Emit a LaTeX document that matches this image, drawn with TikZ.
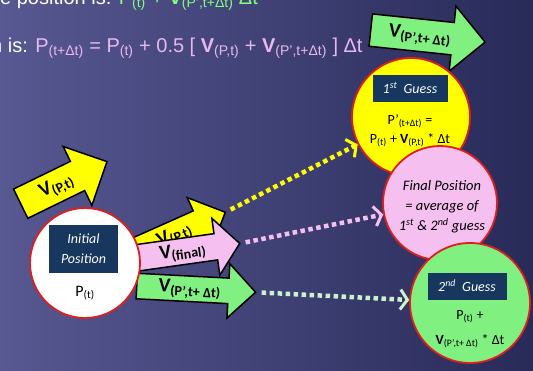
\documentclass[tikz,border=0pt]{standalone}
\usepackage{fontspec}
\setmainfont{Carlito}
\newfontfamily\arialfont{Liberation Sans}
\usetikzlibrary{shapes.arrows,arrows.meta,positioning}

\definecolor{bgleft}{RGB}{88,88,146}
\definecolor{bgright}{RGB}{40,42,88}
\definecolor{boxblue}{RGB}{23,55,94}
\definecolor{ringred}{RGB}{225,30,30}
\definecolor{vyellow}{RGB}{255,255,0}
\definecolor{vpink}{RGB}{245,192,240}
\definecolor{vgreen}{RGB}{128,240,128}
\definecolor{eqpink}{RGB}{232,184,240}
\definecolor{eqgreen}{RGB}{128,255,128}
\definecolor{dotgreen}{RGB}{205,240,205}

\newcommand{\vel}[1]{\textbf{V}\textsubscript{#1}}

\begin{document}
\begin{tikzpicture}[x=1pt, y=-1pt,
  bigarrow/.style={single arrow, draw=black, line width=1.5pt, inner xsep=3pt,
    text height=13pt, text depth=4pt, font=\bfseries\fontsize{20}{22}\selectfont},
  ring/.style={circle, draw=ringred, line width=1.8pt, inner sep=0pt},
  titlebox/.style={fill=boxblue, text=white, inner sep=0pt, align=center,
    font=\itshape\fontsize{14}{20}\selectfont},
  inner/.style={inner sep=0pt, align=center, font=\fontsize{14}{18}\selectfont},
  dotline/.style={line width=4.5pt, dash pattern=on 4.5pt off 3.5pt, shorten <=5pt,
    -{Straight Barb[length=7pt,width=20pt,line width=3pt]}}]
\useasboundingbox (0,0) rectangle (533,370);
\shade[left color=bgleft, right color=bgright] (0,0) rectangle (533,370);

% equations at the top
\node[anchor=base west, inner sep=0pt, text=white, font=\arialfont\fontsize{20}{24}\selectfont] (eqone) at (0,4)
  {e position is: \textcolor{eqgreen}{P\textsubscript{(t)} + \textbf{V}\textsubscript{(P’,t+Δt)} Δt}};
\node[anchor=base west, inner sep=0pt, text=white, font=\arialfont\fontsize{20}{24}\selectfont] (eqtwo) at (-9,52)
  {n is: \textcolor{eqpink}{P\textsubscript{(t+Δt)} = P\textsubscript{(t)} + 0.5 [ \textbf{V}\textsubscript{(P,t)} + \textbf{V}\textsubscript{(P’,t+Δt)} ] Δt}};

% velocity arrows
\node[bigarrow, fill=vyellow, inner ysep=7pt, minimum height=96pt, single arrow head extend=16.5pt,
  rotate=26, anchor=tail] (vpt) at (20,204) {\vel{(P,t)}};
\node[bigarrow, fill=vgreen, inner ysep=7pt, minimum height=115pt, single arrow head extend=16.5pt,
  rotate=-6, anchor=tail] (vtop) at (370,30) {\vel{(P’,t+ Δt)}};
\node[bigarrow, fill=vyellow, inner ysep=5pt, minimum height=97pt, single arrow head extend=14.5pt,
  rotate=24, anchor=tail] (vpt2) at (136,252) {\vel{(P,t)}};
\node[bigarrow, fill=vgreen, inner ysep=3.5pt, minimum height=119pt, single arrow head extend=14.5pt,
  rotate=-3, anchor=tail] (vnew) at (136,286) {\vel{(P’,t+ Δt)}};
\node[bigarrow, fill=vpink, inner ysep=4pt, minimum height=104pt, single arrow head extend=15.5pt,
  single arrow tip angle=100, rotate=8, anchor=tail] (vfin) at (136,258) {\vel{(final)}};

% positions
\node[ring, fill=white, minimum size=110pt] (init) at (85,263) {};
\node[titlebox, minimum width=69pt, minimum height=48pt] (initbox) at (83.5,249) {Initial\\Position};
\node[inner, font=\fontsize{16}{18}\selectfont] (pinit) at (85,293) {P\textsubscript{(t)}};

\node[ring, fill=vyellow, minimum size=118pt] (g1) at (411,117) {};
\node[titlebox, minimum width=75pt, minimum height=27pt] (g1box) at (410,88) {1\textsuperscript{st}\ \ Guess};
\node[inner] (g1a) at (410,121) {P’\textsubscript{(t+Δt)} =};
\node[inner] (g1b) at (410,140) {P\textsubscript{(t)} + \textbf{V}\textsubscript{(P,t)} * Δt};

\node[ring, fill=vpink, minimum size=114pt] (fin) at (440,203) {};
\node[inner, font=\itshape\fontsize{14.5}{20}\selectfont] (fintext) at (442,207)
  {Final Position\\= average of\\1\textsuperscript{st} \& 2\textsuperscript{nd} guess};

\node[ring, fill=vgreen, minimum size=120pt] (g2) at (470,303) {};
\node[titlebox, minimum width=79pt, minimum height=27pt] (g2box) at (467,286) {2\textsuperscript{nd}\ \ Guess};
\node[inner] (g2a) at (470,317) {P\textsubscript{(t)} +};
\node[inner] (g2b) at (470,341) {\textbf{V}\textsubscript{(P’,t+ Δt)} * Δt};

% dotted links
\draw[dotline, vyellow] (vpt2.tip) -- (g1);
\draw[dotline, vpink] (vfin.tip) -- (fin);
\draw[dotline, dotgreen] (vnew.tip) -- (g2);
\end{tikzpicture}
\end{document}
